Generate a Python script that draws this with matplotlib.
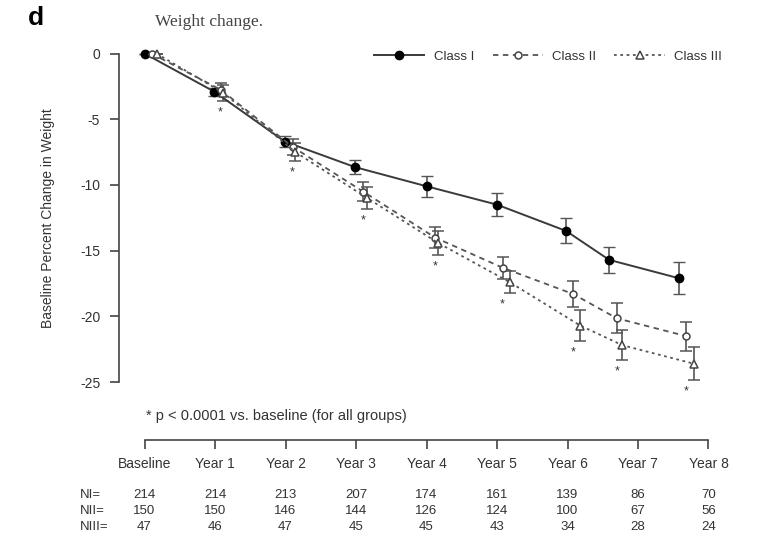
import matplotlib
matplotlib.use("Agg")
import matplotlib.pyplot as plt
import matplotlib.transforms as mtransforms
from matplotlib.lines import Line2D

plt.rcParams['font.family'] = ['Liberation Sans', 'DejaVu Sans']
plt.rcParams['axes.unicode_minus'] = False

# ---- data ----
time_labels = ["Baseline", "Year 1", "Year 2", "Year 3", "Year 4", "Year 5", "Year 6", "Year 7", "Year 8"]
tick_pos = [0, 1, 2, 3, 4, 5, 6, 7, 8]

class1_x = [0, 0.99, 1.99, 2.99, 4.0, 5.0, 5.98, 6.59, 7.58]
class1_y = [0, -2.9, -6.7, -8.65, -10.1, -11.5, -13.5, -15.7, -17.1]
class1_err = [0, 0.3, 0.4, 0.55, 0.8, 0.87, 0.95, 1.0, 1.2]

class2_x = [0.1, 1.08, 2.1, 3.1, 4.12, 5.08, 6.08, 6.70, 7.68]
class2_y = [0, -2.75, -7.1, -10.5, -14.0, -16.3, -18.3, -20.15, -21.5]
class2_err = [0, 0.5, 0.6, 0.75, 0.8, 0.82, 1.0, 1.15, 1.1]

class3_x = [0.17, 1.12, 2.14, 3.16, 4.16, 5.18, 6.18, 6.78, 7.79]
class3_y = [0, -3.0, -7.5, -11.0, -14.4, -17.4, -20.7, -22.2, -23.6]
class3_err = [0, 0.6, 0.7, 0.85, 0.9, 0.85, 1.2, 1.15, 1.25]

n_labels = ["NI=", "NII=", "NIII="]
n_class1 = [214, 214, 213, 207, 174, 161, 139, 86, 70]
n_class2 = [150, 150, 146, 144, 126, 124, 100, 67, 56]
n_class3 = [47, 46, 47, 45, 45, 43, 34, 28, 24]

y_ticks = [0, -5, -10, -15, -20, -25]

# ---- figure ----
W, H = 771, 537
fig = plt.figure(figsize=(W / 100, H / 100), dpi=100)
ax = fig.add_axes([119 / W, 1 - 440 / H, 611 / W, 400 / H])

axc = '#444444'
txtc = '#333333'

styles = [
    dict(color='#3a3a3a', lw=1.4, ls='-', marker='o', ms=6, mfc='black', mec='black', mew=1.0),
    dict(color='#555555', lw=1.3, ls=(0, (3, 2.5)), marker='o', ms=5, mfc='white', mec='#444444', mew=1.1),
    dict(color='#555555', lw=1.3, ls=(0, (1.5, 2)), marker='^', ms=5.5, mfc='white', mec='#444444', mew=1.1),
]
series = [(class1_x, class1_y, class1_err, 'Class I'),
          (class2_x, class2_y, class2_err, 'Class II'),
          (class3_x, class3_y, class3_err, 'Class III')]

handles = []
for (xs, ys, es, lab), st in zip(series, styles):
    ax.errorbar(xs, ys, yerr=es, ecolor='#555555', elinewidth=1.2, capsize=4.5,
                capthick=1.2, zorder=3, **st)
    handles.append(Line2D([], [], label=lab, **st))

# significance stars below the lowest error bar at each follow-up time
for i in range(1, len(tick_pos)):
    low = min(class1_y[i] - class1_err[i], class2_y[i] - class2_err[i],
              class3_y[i] - class3_err[i])
    ax.annotate('*', xy=(class2_x[i], low), xytext=(0, -4), textcoords='offset points',
                ha='center', va='top', fontsize=9, color=txtc)

ax.set_xlim(-0.362, 8.305)
ax.set_ylim(-29.41, 1.03)

for s in ['top', 'right']:
    ax.spines[s].set_visible(False)
ax.spines['left'].set_bounds(-25, 0)
ax.spines['bottom'].set_bounds(0, 8)
for s in ['left', 'bottom']:
    ax.spines[s].set_color(axc)
    ax.spines[s].set_linewidth(1.2)

ax.set_yticks(y_ticks)
ax.set_yticklabels([str(v) for v in y_ticks])
ax.set_xticks(tick_pos)
ax.set_xticklabels(time_labels)
ax.tick_params(axis='y', direction='out', length=6.5, width=1.2, color=axc, pad=7,
               labelsize=10, labelcolor=txtc)
ax.tick_params(axis='x', direction='out', length=6.5, width=1.2, color=axc, pad=6,
               labelsize=10, labelcolor=txtc)

ax.set_ylabel('Baseline Percent Change in Weight', fontsize=10, color=txtc)
ax.yaxis.set_label_coords(-0.105, 0.555)

# legend
leg = fig.legend(handles=handles, loc='center', bbox_to_anchor=(548 / W, 1 - 56.7 / H), ncol=3,
                 frameon=False, fontsize=9.5, handlelength=3.8, columnspacing=1.4,
                 handletextpad=0.7)
for t in leg.get_texts():
    t.set_color(txtc)

# titles
fig.text(28 / W, 1 - 18 / H, 'd', fontsize=19, fontweight='bold', ha='left', va='center',
         color='black')
fig.text(155 / W, 1 - 22 / H, 'Weight change.', fontsize=12.5, family='Liberation Serif',
         ha='left', va='center', color='#444444')

# footnote
fig.text(146 / W, 1 - 416 / H, '* p < 0.0001 vs. baseline (for all groups)', fontsize=10.5,
         ha='left', va='center', color=txtc)

# N table
trans = mtransforms.blended_transform_factory(ax.transData, fig.transFigure)
rows_y = [1 - 495 / H, 1 - 511 / H, 1 - 527 / H]
for lab, vals, yy in zip(n_labels, [n_class1, n_class2, n_class3], rows_y):
    fig.text(80 / W, yy, lab, fontsize=9.5, ha='left', va='center', color=txtc)
    for xp, v in zip(tick_pos, vals):
        ax.text(xp, yy, str(v), transform=trans, fontsize=9.5, ha='center', va='center',
                color=txtc, clip_on=False)

fig.savefig('out.png', dpi=100)
